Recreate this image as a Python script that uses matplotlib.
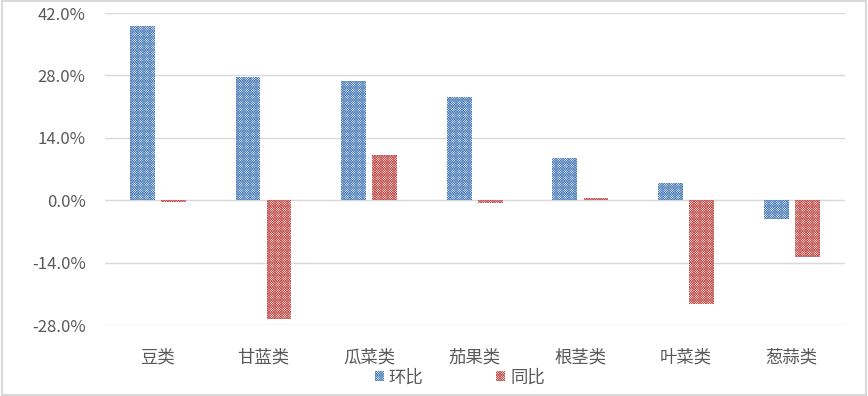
import numpy as np
import matplotlib.pyplot as plt
from matplotlib.ticker import FuncFormatter

plt.rcParams['font.family'] = ['Noto Sans CJK SC', 'DejaVu Sans']
plt.rcParams['hatch.linewidth'] = 0.5

categories = ["豆类", "甘蓝类", "瓜菜类", "茄果类", "根茎类", "叶菜类", "葱蒜类"]
huanbi = [39.2, 27.6, 26.7, 23.1, 9.6, 3.8, -4.3]
tongbi = [-0.3, -26.7, 10.1, -0.5, 0.5, -23.3, -12.8]
yticks = [-28, -14, 0, 14, 28, 42]

blue = "#4F7FB8"
red = "#C0504D"

fig = plt.figure(figsize=(8.68, 3.96), dpi=100)
ax = fig.add_axes([0.121, 0.179, 0.852, 0.788])

x = np.arange(len(categories))
w = 0.235
gap = 0.03
# 点状网纹填充，接近原图的样式
ax.bar(x - w / 2 - gap, huanbi, w, facecolor="white", edgecolor=blue,
       hatch="x" * 14, linewidth=0, label="环比", zorder=3)
ax.bar(x + w / 2 + gap, tongbi, w, facecolor="white", edgecolor=red,
       hatch="x" * 14, linewidth=0, label="同比", zorder=3)

ax.set_ylim(-28, 42)
ax.set_xlim(-0.5, len(categories) - 0.5)
ax.set_yticks(yticks)
ax.yaxis.set_major_formatter(FuncFormatter(lambda v, p: f"{v:.1f}%"))
ax.set_xticks(x)
ax.set_xticklabels(categories, fontsize=12.5)
ax.grid(axis="y", color="#D9D9D9", linewidth=1, zorder=0)
for s in ax.spines.values():
    s.set_visible(False)
ax.tick_params(axis="both", length=0, colors="#595959")
ax.tick_params(axis="y", labelsize=12, pad=14)
ax.tick_params(axis="x", pad=17)

leg = fig.legend(loc="lower center", ncol=2, frameon=False, fontsize=12.5,
                 bbox_to_anchor=(0.53, -0.015), handlelength=0.5, handleheight=0.5,
                 columnspacing=4.2, handletextpad=0.3, labelcolor="#595959")

fig.patches.append(plt.Rectangle((0.002, 0.003), 0.996, 0.994, transform=fig.transFigure,
                                 fill=False, edgecolor="#D9D9D9", linewidth=1.5))

fig.savefig("out.png", dpi=100)
